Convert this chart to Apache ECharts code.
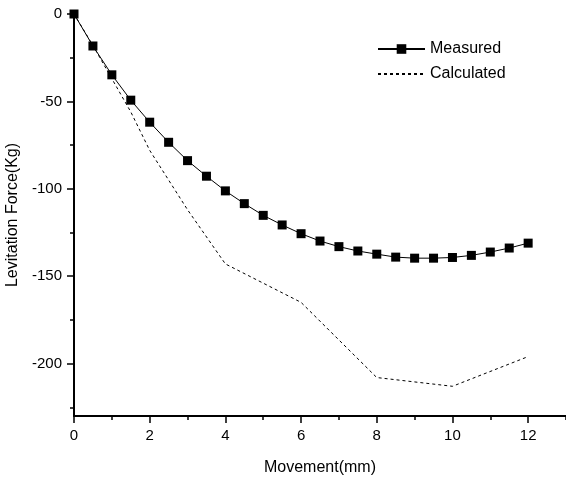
<!DOCTYPE html>
<html>
<head>
<meta charset="utf-8">
<script src="https://cdn.jsdelivr.net/npm/echarts@6/dist/echarts.min.js"></script>
<style>html,body{margin:0;padding:0;background:#fff}#c{width:566px;height:483px}</style>
</head>
<body>
<div id="c"></div>
<script>
const measuredX = [0,0.5,1,1.5,2,2.5,3,3.5,4,4.5,5,5.5,6,6.5,7,7.5,8,8.5,9,9.5,10,10.5,11,11.5,12];
const measuredY = [0,-18.3,-34.8,-49.3,-61.9,-73.4,-83.9,-92.8,-101.2,-108.5,-115.2,-120.7,-125.7,-129.9,-133.1,-135.6,-137.4,-139.1,-139.7,-139.7,-139.3,-138.1,-136.2,-133.9,-131.1];
const calculatedX = [0,0.5,1,1.5,2,3,4,6,8,10,12];
const calculatedY = [0,-18,-37,-56,-78,-112,-143,-165,-208,-213,-196];
const seriesNames = ['Measured','Calculated'];
const xTitle = 'Movement(mm)';
const yTitle = 'Levitation Force(Kg)';

const FONT = 'Liberation Sans, Arial, sans-serif';
const chart = echarts.init(document.getElementById('c'), null, {renderer:'canvas'});
const pxPerUnit = 402/230;
const gridBase = {left:74, top:14, right:0, containLabel:false, outerBoundsMode:'none'};
const gridMain = Object.assign({}, gridBase, {bottom:67});
const gridMinorY = Object.assign({}, gridBase, {bottom:67 + 5*pxPerUnit});
const gridMajorY = Object.assign({}, gridBase, {bottom:67 + 30*pxPerUnit});
const hiddenX = (g) => ({type:'value', gridIndex:g, min:0, max:13, show:false});
chart.setOption({
  animation:false,
  grid:[gridMain, gridMinorY, gridMajorY],
  legend:{
    left:372, top:36, orient:'vertical', itemWidth:47, itemHeight:12, itemGap:9,
    textStyle:{fontFamily:FONT, fontSize:16, color:'#000'},
    data:[{name:seriesNames[0]}, {name:seriesNames[1], itemStyle:{opacity:0}}]
  },
  xAxis:[
    {type:'value', gridIndex:0, min:0, max:13, interval:2, position:'bottom',
     name:xTitle, nameLocation:'middle', nameGap:44,
     nameTextStyle:{fontFamily:FONT, fontSize:16, color:'#000'},
     axisLine:{show:true, onZero:false, lineStyle:{color:'#000', width:2}},
     axisTick:{show:true, inside:false, length:7, lineStyle:{color:'#000', width:1.5}},
     axisLabel:{fontFamily:FONT, fontSize:15, color:'#000', margin:12, showMaxLabel:false,
       formatter:(v)=> (v%2===0 ? String(v) : '')},
     splitLine:{show:false}},
    {type:'value', gridIndex:0, min:0, max:13, interval:1, position:'bottom',
     axisLine:{show:false, onZero:false}, axisLabel:{show:false}, splitLine:{show:false},
     axisTick:{show:true, inside:false, length:4, lineStyle:{color:'#000', width:1.5}}},
    hiddenX(1), hiddenX(2)
  ],
  yAxis:[
    {type:'value', gridIndex:0, min:-230, max:0, splitNumber:5,
     name:yTitle, nameLocation:'middle', nameGap:46,
     nameTextStyle:{fontFamily:FONT, fontSize:16, color:'#000'},
     axisLine:{show:true, onZero:false, lineStyle:{color:'#000', width:2}},
     axisTick:{show:false},
     axisLabel:{fontFamily:FONT, fontSize:15, color:'#000', margin:12, showMinLabel:false},
     splitLine:{show:false}},
    {type:'value', gridIndex:1, min:-225, max:0, interval:25,
     axisLine:{show:false, onZero:false}, axisLabel:{show:false}, splitLine:{show:false},
     axisTick:{show:true, inside:false, length:4, lineStyle:{color:'#000', width:1.5}}},
    {type:'value', gridIndex:2, min:-200, max:0, interval:50,
     axisLine:{show:false, onZero:false}, axisLabel:{show:false}, splitLine:{show:false},
     axisTick:{show:true, inside:false, length:7, lineStyle:{color:'#000', width:1.5}}}
  ],
  series:[
    {name:seriesNames[0], type:'line', xAxisIndex:0, yAxisIndex:0,
     data:measuredX.map((x,i)=>[x, measuredY[i]]),
     symbol:'rect', symbolSize:9, showAllSymbol:true,
     itemStyle:{color:'#000'}, lineStyle:{color:'#000', width:1}},
    {name:seriesNames[1], type:'line', xAxisIndex:0, yAxisIndex:0,
     data:calculatedX.map((x,i)=>[x, calculatedY[i]]),
     symbol:'none',
     itemStyle:{color:'#000'}, lineStyle:{color:'#000', width:1, type:[3,3]}}
  ]
});
</script>
</body>
</html>
